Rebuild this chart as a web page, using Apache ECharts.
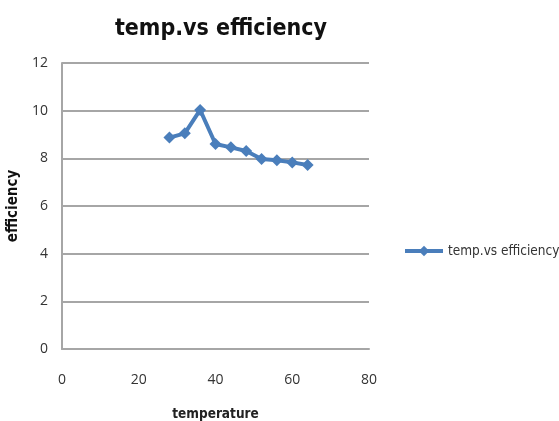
<!DOCTYPE html>
<html>
<head>
<meta charset="utf-8">
<script src="https://cdn.jsdelivr.net/npm/echarts@6/dist/echarts.min.js"></script>
<style>
  html, body { margin: 0; padding: 0; background: #fff; }
  #chart { width: 559px; height: 421px; }
</style>
</head>
<body>
<div id="chart"></div>
<script>
// Temperature readings and the measured efficiency at each one
const temperature = [28, 32, 36, 40, 44, 48, 52, 56, 60, 64];
const efficiency = [8.87, 9.05, 10.03, 8.6, 8.46, 8.31, 7.97, 7.92, 7.83, 7.72];
const seriesName = 'temp.vs efficiency';
const yTicks = [0, 2, 4, 6, 8, 10, 12];
const xTicks = [0, 20, 40, 60, 80];

const points = temperature.map((t, i) => [t, efficiency[i]]);
const narrowFont = '"DejaVu Sans Condensed", "Open Sans", sans-serif';
const labelFont = '"Open Sans", Lato, sans-serif';

const chart = echarts.init(document.getElementById('chart'));
chart.setOption({
  animation: false,
  title: {
    text: 'temp.vs efficiency',
    left: 216,
    top: 13,
    textAlign: 'center',
    textStyle: { fontFamily: narrowFont, fontWeight: 'bold', fontSize: 23, color: '#111' }
  },
  legend: {
    data: [seriesName],
    left: 398,
    top: 239,
    itemWidth: 38,
    itemHeight: 13,
    itemGap: 2,
    lineStyle: { width: 4 },
    textStyle: { fontFamily: narrowFont, fontSize: 13.5, color: '#333' }
  },
  grid: { left: 62, right: 190, top: 63, bottom: 72, outerBoundsMode: 'none' },
  xAxis: {
    type: 'value',
    min: xTicks[0],
    max: xTicks[xTicks.length - 1],
    interval: 20,
    name: 'temperature',
    nameLocation: 'middle',
    nameGap: 58,
    nameTextStyle: { fontFamily: narrowFont, fontWeight: 'bold', fontSize: 13.5, color: '#222' },
    axisLine: { show: true, lineStyle: { color: '#a6a6a6', width: 2 } },
    axisTick: { show: false },
    splitLine: { show: false },
    axisLabel: { fontFamily: labelFont, fontSize: 14, color: '#333', margin: 24 }
  },
  yAxis: {
    type: 'value',
    min: yTicks[0],
    max: yTicks[yTicks.length - 1],
    interval: 2,
    name: 'efficiency',
    nameLocation: 'middle',
    nameGap: 36,
    nameTextStyle: { fontFamily: narrowFont, fontWeight: 'bold', fontSize: 15, color: '#111' },
    axisLine: { show: true, lineStyle: { color: '#a6a6a6', width: 2 } },
    axisTick: { show: false },
    splitLine: { show: true, lineStyle: { color: '#a6a6a6', width: 2 } },
    axisLabel: { fontFamily: labelFont, fontSize: 14, color: '#333', margin: 14 }
  },
  series: [{
    name: seriesName,
    type: 'line',
    data: points,
    symbol: 'diamond',
    symbolSize: 12,
    lineStyle: { color: '#4a7ebb', width: 4 },
    itemStyle: { color: '#4a7ebb' }
  }]
});
</script>
</body>
</html>
